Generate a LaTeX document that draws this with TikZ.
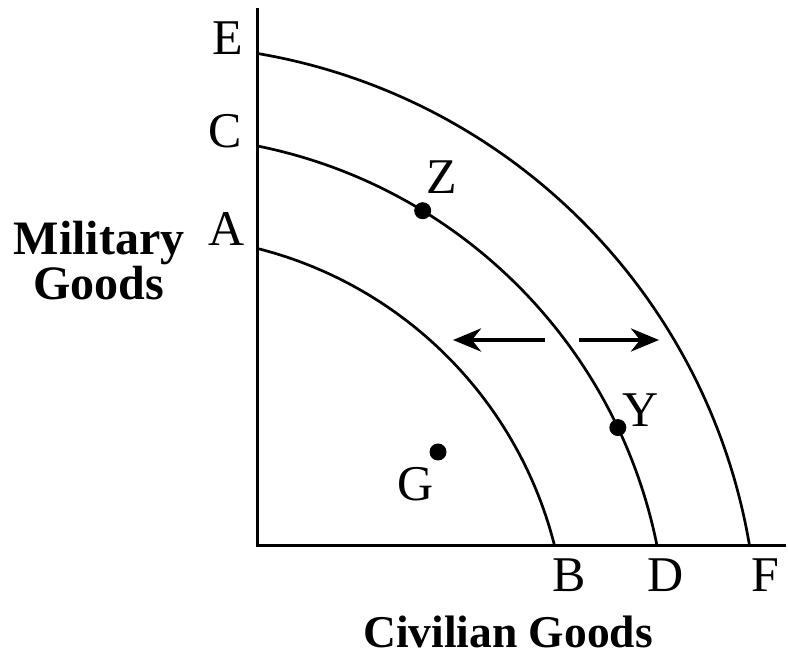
\documentclass[tikz,border=0pt]{standalone}
\usepackage{fontspec}
\setmainfont{Liberation Serif}
\usetikzlibrary{arrows.meta}
\begin{document}
\begin{tikzpicture}[x=1pt,y=1pt,
  axisline/.style={line width=3pt},
  ppf/.style={line width=2.7pt},
  shiftarrow/.style={line width=4.5pt,-{Stealth[length=28pt,width=23pt,inset=9pt]}},
  dotpt/.style={circle,fill=black,inner sep=0pt,minimum size=17pt},
  lab/.style={font=\fontsize{50}{60}\selectfont,inner sep=0pt},
  axlab/.style={font=\bfseries\fontsize{48}{45}\selectfont,align=center,inner sep=0pt},
  xaxlab/.style={font=\bfseries\fontsize{45.5}{45}\selectfont,inner sep=0pt}]
\useasboundingbox (0,0) rectangle (788,658);
% axes
\coordinate (O) at (257,112);
\coordinate (Ytop) at (257,650);
\coordinate (Xend) at (786,112);
\draw[axisline] (Ytop) -- (O) -- (Xend);
% common centre of the three curves
\coordinate (M) at (157,12);
\path (M) ++(75.88:410) coordinate (Apt);
\path (M) ++(78.69:510) coordinate (Cpt);
\path (M) ++(80.42:601) coordinate (Ept);
\draw[ppf] (Apt) arc[start angle=75.88,end angle=14.12,radius=410];
\draw[ppf] (Cpt) arc[start angle=78.69,end angle=11.31,radius=510];
\draw[ppf] (Ept) arc[start angle=80.42,end angle=9.58,radius=601];
% points
\path (M) ++(58.6:510) node[dotpt] (Zdot) {};
\path (M) ++(25.36:510) node[dotpt] (Ydot) {};
\node[dotpt] (Gdot) at (438,206) {};
% arrows
\coordinate (L1) at (545,318);
\coordinate (L2) at (453,318);
\coordinate (R1) at (579,318);
\coordinate (R2) at (659,318);
\draw[shiftarrow] (L1) -- (L2);
\draw[shiftarrow] (R1) -- (R2);
% letter labels
\node[lab] (labE) at (228,620) {E};
\node[lab] (labC) at (225,527) {C};
\node[lab] (labA) at (227,429) {A};
\node[lab] (labZ) at (442,481) {Z};
\node[lab] (labY) at (641,248) {Y};
\node[lab] (labG) at (416,174) {G};
\node[lab] (labB) at (569,83) {B};
\node[lab] (labD) at (666,83) {D};
\node[lab] (labF) at (765,83) {F};
% axis labels
\node[axlab,anchor=north] (ylab) at (99,437) {Military\\Goods};
\node[xaxlab,anchor=base] (xlab) at (508,10) {Civilian Goods};
\end{tikzpicture}
\end{document}
